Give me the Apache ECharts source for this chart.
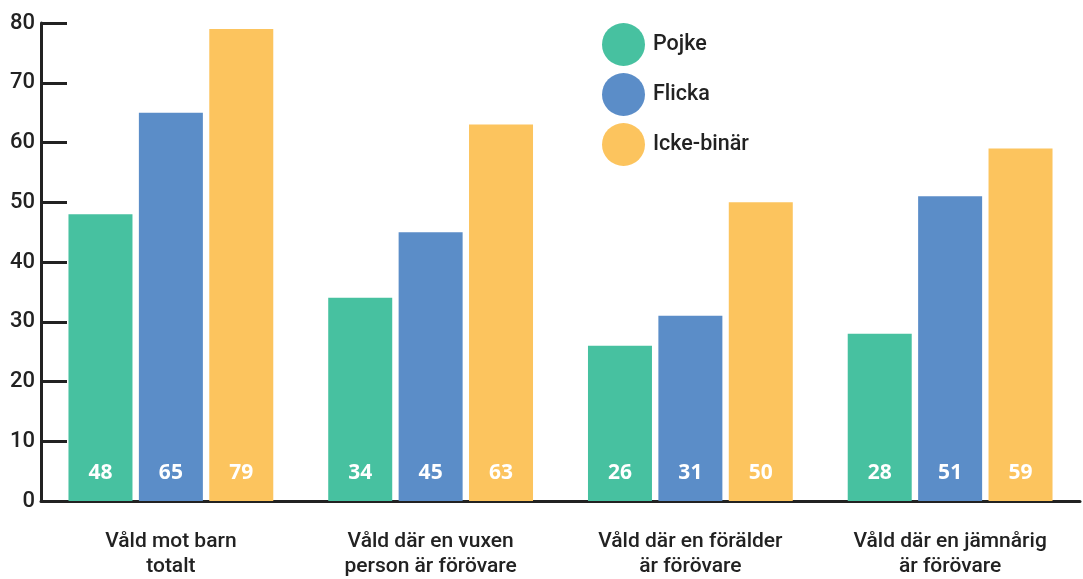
<!DOCTYPE html>
<html>
<head>
<meta charset="utf-8">
<script src="https://cdn.jsdelivr.net/npm/echarts@6/dist/echarts.min.js"></script>
<style>html,body{margin:0;padding:0;background:#fff;}#c{width:1083px;height:579px;}</style>
</head>
<body>
<div id="c"></div>
<script>
const categories = ["Våld mot barn\ntotalt", "Våld där en vuxen\nperson är förövare", "Våld där en förälder\när förövare", "Våld där en jämnårig\när förövare"];
const pojke = [48, 34, 26, 28];
const flicka = [65, 45, 31, 51];
const ickeBinar = [79, 63, 50, 59];
const seriesNames = ["Pojke", "Flicka", "Icke-binär"];
const colors = ["#47C1A0", "#5B8DC8", "#FCC45E"];

const chart = echarts.init(document.getElementById('c'));
const barLabel = {
  show: true, position: 'insideBottom', distance: 17,
  color: '#fff', fontFamily: 'Open Sans', fontWeight: 'bold', fontSize: 21
};
const mk = (name, data, color) => ({
  name, type: 'bar', data, barWidth: 64, barGap: '10%',
  itemStyle: { color }, label: barLabel
});
chart.setOption({
  animation: false,
  textStyle: { fontFamily: 'Roboto' },
  grid: { left: 41, right: 3, top: 23, bottom: 72, containLabel: false },
  legend: {
    orient: 'vertical', left: 597, top: 18, icon: 'circle',
    itemWidth: 43, itemHeight: 43, itemGap: 7,
    textStyle: { fontSize: 21.5, color: '#222', fontFamily: 'Roboto', fontWeight: 500, padding: [0, 0, 0, 3] },
    data: seriesNames
  },
  xAxis: {
    type: 'category', data: categories,
    axisLine: { lineStyle: { color: '#222', width: 3 } },
    axisTick: { inside: true, length: 8, lineStyle: { color: '#222', width: 2 } },
    axisLabel: { fontSize: 21, color: '#222', fontFamily: 'Roboto', fontWeight: 500, lineHeight: 25, margin: 28, interval: 0 }
  },
  yAxis: {
    type: 'value', min: 0, max: 80, interval: 10,
    splitLine: { show: false },
    axisLine: { show: true, lineStyle: { color: '#222', width: 3 } },
    axisTick: { show: true, inside: true, length: 26, lineStyle: { color: '#222', width: 3 } },
    axisLabel: { fontSize: 22, color: '#222', fontFamily: 'Roboto', fontWeight: 500, margin: 6 }
  },
  series: [mk(seriesNames[0], pojke, colors[0]), mk(seriesNames[1], flicka, colors[1]), mk(seriesNames[2], ickeBinar, colors[2])]
});
</script>
</body>
</html>
